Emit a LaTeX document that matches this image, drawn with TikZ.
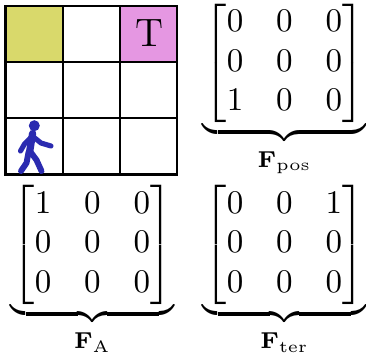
\documentclass[tikz,border=0pt]{standalone}
\usepackage{amsmath}
\definecolor{cellyellow}{RGB}{217,217,107}
\definecolor{cellpink}{RGB}{229,151,226}
\definecolor{walker}{RGB}{43,43,176}
\newcommand{\bracelabel}[1]{\rule{0pt}{5.4pt}\mathbf{F}_{\mathrm{#1}}}
\begin{document}
\begin{tikzpicture}[x=0.30303pt,y=-0.30303pt,
  gridline/.style={line width=0.72pt},
  limb/.style={walker,line width=1.55pt,line cap=round,line join=round},
  mat/.style={inner sep=0pt,outer sep=0pt,anchor=north},
  brc/.style={inner sep=0pt,outer sep=0pt,anchor=north}]
\useasboundingbox (0,0) rectangle (366,359);
% coloured cells
\fill[cellyellow] (5.5,6) rectangle (62.7,62.2);
\fill[cellpink] (119.8,6) rectangle (177,62.2);
% grid
\foreach \x in {62.7,119.8} \draw[gridline] (\x,6) -- (\x,174.5);
\foreach \y in {62.2,118.3} \draw[gridline] (5.5,\y) -- (177,\y);
\draw[gridline] (5.5,6) rectangle (177,174.5);
% target label
\node[inner sep=0pt] (T) at (149.5,33) {\large T};
% walking person
\fill[walker] (34.3,125.7) circle (5.5);
\draw[limb,line width=2.2pt] (32.6,133.5) -- (29.6,152);
\draw[limb] (31.5,137) -- (24.5,144) -- (20.5,151);
\draw[limb] (33.5,137) -- (41,143) -- (51,146);
\draw[limb,line width=1.8pt] (28.6,152) -- (26.5,163) -- (21,171);
\draw[limb,line width=1.8pt] (30.6,152) -- (36.5,160) -- (41.5,171);
% matrices
\node[mat] (Fpos) at (284.5,4) {$\begin{bmatrix}0&0&0\\0&0&0\\1&0&0\end{bmatrix}$};
\node[brc] (Bpos) at ([yshift=0.8pt]Fpos.south) {$\underbrace{\hspace{49.4pt}}_{\bracelabel{pos}}$};
\node[mat] (FA) at (92.5,185.5) {$\begin{bmatrix}1&0&0\\0&0&0\\0&0&0\end{bmatrix}$};
\node[brc] (BA) at ([yshift=0.8pt]FA.south) {$\underbrace{\hspace{49.4pt}}_{\bracelabel{A}}$};
\node[mat] (Fter) at (284.5,185.5) {$\begin{bmatrix}0&0&1\\0&0&0\\0&0&0\end{bmatrix}$};
\node[brc] (Bter) at ([yshift=0.8pt]Fter.south) {$\underbrace{\hspace{49.4pt}}_{\bracelabel{ter}}$};
\end{tikzpicture}
\end{document}
